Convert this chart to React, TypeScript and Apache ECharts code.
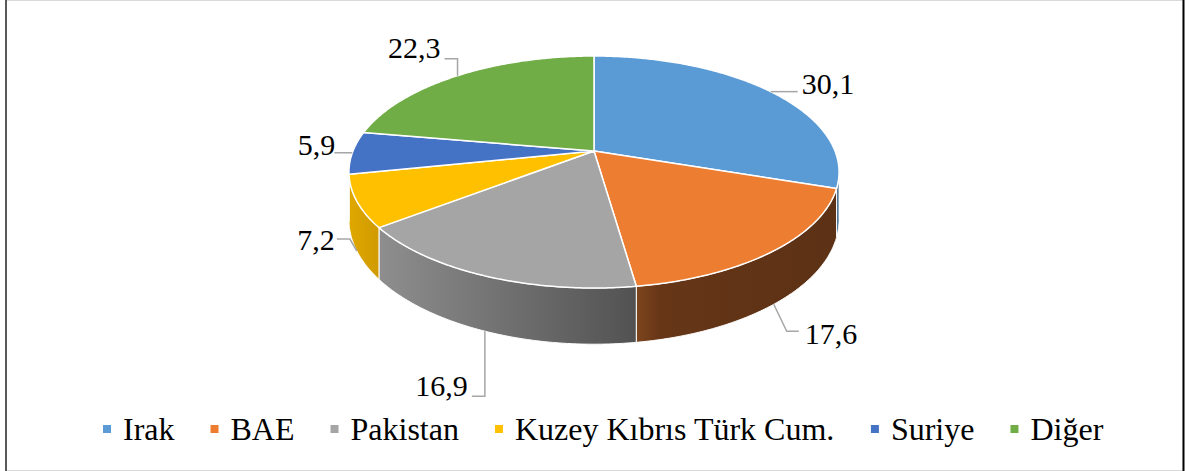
import React, { useEffect, useRef } from "react";
import * as echarts from "echarts";

// ---- data ----
const categories = ["Irak", "BAE", "Pakistan", "Kuzey Kıbrıs Türk Cum.", "Suriye", "Diğer"];
const values = [30.1, 17.6, 16.9, 7.2, 5.9, 22.3];

// ---- styles ----
const topColors = ["#5b9bd5", "#ed7d31", "#a5a5a5", "#ffc000", "#4472c4", "#70ad47"];
const sideStops: [number, string][][] = [
  [[0, "#3f6e99"], [1, "#2f5577"]],
  [[0, "#7d451d"], [0.12, "#663617"], [1, "#5c3115"]],
  [[0, "#8e8e8e"], [1, "#525252"]],
  [[0, "#dfa800"], [1, "#d09a00"]],
  [[0, "#2f5597"], [1, "#27477e"]],
  [[0, "#4e7a32"], [1, "#43692b"]],
];
// leader line / label offsets relative to the slice anchor point
const labelLayout = [
  { elbow: [0, 0], end: [27, 0], text: [31, -8], align: "left" },
  { elbow: [13, 27], end: [25, 27], text: [31, 29], align: "left" },
  { elbow: [0, 65], end: [-13, 65], text: [-17, 54], align: "right" },
  { elbow: [-7, -12], end: [-20, -12], text: [-22, -11], align: "right" },
  { elbow: [0, 0], end: [-18, 0], text: [-17, -8], align: "right" },
  { elbow: [0, -17], end: [-13, -17], text: [-17, -28], align: "right" },
];

// ---- 3D pie geometry ----
const CX = 594;
const CY = 151;
const RX = 241;
const RY = 112.2;
const DEPTH = 5.52;
const H = 46;
const SERIF = "Liberation Serif";

function proj(t: number, z: number): [number, number] {
  const s = Math.sin(t);
  const c = Math.cos(t);
  const f = DEPTH / (DEPTH + c);
  return [CX + RX * s * f, CY - RY * c * f + z * H * f];
}

function arc(a: number, b: number, z: number): [number, number][] {
  const n = Math.max(2, Math.ceil(Math.abs(b - a) / (Math.PI / 360)));
  const pts: [number, number][] = [];
  for (let k = 0; k <= n; k++) pts.push(proj(a + ((b - a) * k) / n, z));
  return pts;
}

const total = values.reduce((s, v) => s + v, 0);
const starts: number[] = [];
{
  let acc = 0;
  for (const v of values) {
    starts.push((acc / total) * Math.PI * 2);
    acc += v;
  }
}
const VIS0 = Math.acos(-1 / DEPTH);
const VIS1 = Math.PI * 2 - VIS0;

function renderItem(params: any) {
  const i = params.dataIndex;
  const a0 = starts[i];
  const a1 = a0 + (values[i] / total) * Math.PI * 2;
  const children: any[] = [];

  const s = Math.max(a0, VIS0);
  const e = Math.min(a1, VIS1);
  if (e > s) {
    const pts = arc(s, e, 0).concat(arc(e, s, 1));
    children.push({
      type: "polygon",
      z2: 1,
      shape: { points: pts },
      style: {
        fill: {
          type: "linear",
          x: 0,
          y: 0,
          x2: 1,
          y2: 0,
          colorStops: sideStops[i].map(([o, c]) => ({ offset: o, color: c })),
        },
        stroke: "#ffffff",
        lineWidth: 1,
        lineJoin: "round",
      },
    });
  }

  const topPts = [[CX, CY] as [number, number]].concat(arc(a0, a1, 0));
  children.push({
    type: "polygon",
    z2: 2,
    shape: { points: topPts },
    style: { fill: topColors[i], stroke: "#ffffff", lineWidth: 1.5, lineJoin: "round" },
  });

  const mid = (a0 + a1) / 2;
  const front = mid > VIS0 && mid < VIS1;
  const anchor = proj(mid, front ? 1 : 0);
  const L = labelLayout[i];
  children.push({
    type: "polyline",
    z2: 3,
    shape: {
      points: [
        anchor,
        [anchor[0] + L.elbow[0], anchor[1] + L.elbow[1]],
        [anchor[0] + L.end[0], anchor[1] + L.end[1]],
      ],
    },
    style: { stroke: "#a6a6a6", lineWidth: 1.5, fill: null },
  });
  children.push({
    type: "text",
    z2: 3,
    style: {
      text: values[i].toFixed(1).replace(".", ","),
      x: anchor[0] + L.text[0],
      y: anchor[1] + L.text[1],
      fontSize: 30,
      fontFamily: SERIF,
      fill: "#000000",
      align: L.align,
      verticalAlign: "middle",
    },
  });
  return { type: "group", children };
}

export default function App() {
  const ref = useRef<HTMLDivElement>(null);
  useEffect(() => {
    if (!ref.current) return;
    const chart = echarts.init(ref.current, null, { renderer: "svg" });
    chart.setOption({
      animation: false,
      backgroundColor: "#ffffff",
      legend: {
        data: categories,
        left: 98,
        top: 408,
        icon: "rect",
        itemWidth: 8,
        itemHeight: 8,
        itemGap: 36,
        selectedMode: false,
        textStyle: {
          fontFamily: SERIF,
          fontSize: 32,
          color: "#000000",
          padding: [0, 0, 0, 7],
        },
      },
      graphic: [
        {
          type: "rect",
          shape: { x: 6, y: 0.5, width: 1177, height: 470 },
          style: { fill: null, stroke: "#d9d9d9", lineWidth: 1 },
          silent: true,
        },
        {
          type: "line",
          shape: { x1: 6, y1: 0, x2: 6, y2: 471 },
          style: { stroke: "#595959", lineWidth: 2 },
          silent: true,
        },
        {
          type: "line",
          shape: { x1: 1183.5, y1: 0, x2: 1183.5, y2: 471 },
          style: { stroke: "#000000", lineWidth: 2 },
          silent: true,
        },
      ],
      series: [
        {
          type: "pie",
          radius: [0, 0],
          center: [CX, CY],
          silent: true,
          label: { show: false },
          labelLine: { show: false },
          data: categories.map((n, i) => ({
            name: n,
            value: values[i],
            itemStyle: { color: topColors[i] },
          })),
        },
        {
          type: "custom",
          coordinateSystem: "none",
          silent: true,
          renderItem,
          data: values,
        },
      ],
    });
    return () => chart.dispose();
  }, []);
  return (
    <div
      ref={ref}
      style={{ position: "fixed", left: 0, top: 0, width: 1189, height: 471 }}
    />
  );
}
